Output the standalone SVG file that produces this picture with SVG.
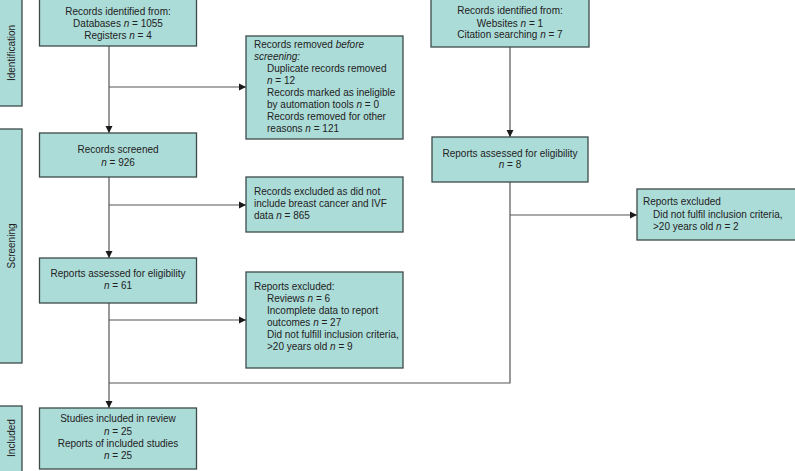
<svg xmlns="http://www.w3.org/2000/svg" width="795" height="471" viewBox="0 0 795 471">
<defs>
<marker id="ah" viewBox="0 0 10 10" refX="10" refY="5" markerWidth="7.5" markerHeight="7.5" markerUnits="userSpaceOnUse" orient="auto">
<path d="M0,0 L10,5 L0,10 z" fill="#1a1a1a"/>
</marker>
<style>
.box{fill:#acdcd8;stroke:#3c4a4a;stroke-width:1.3}
.bar{fill:#acdcd8;stroke:#3c4a4a;stroke-width:1.3}
.t{font-family:"Liberation Sans",Arial,sans-serif;font-size:10px;fill:#222}
.c{text-anchor:middle}
.ln{fill:none;stroke:#555;stroke-width:1.2}
.a{marker-end:url(#ah)}
</style>
</defs>
<rect width="795" height="471" fill="#fff"/>
<g id="phases">
<rect class="bar" x="-2" y="-2" width="24" height="108"/>
<text class="t c" transform="translate(14.5,53) rotate(-90)">Identification</text>
<rect class="bar" x="-2" y="129" width="24" height="234"/>
<text class="t c" transform="translate(14.5,246) rotate(-90)">Screening</text>
<rect class="bar" x="-2" y="406" width="24" height="68"/>
<text class="t c" transform="translate(14.5,438) rotate(-90)">Included</text>
</g>
<g id="connectors">
<line class="ln a" x1="109" y1="46" x2="109" y2="133"/>
<line class="ln a" x1="109" y1="87" x2="246" y2="87"/>
<line class="ln a" x1="109" y1="177" x2="109" y2="258"/>
<line class="ln a" x1="109" y1="205" x2="246" y2="205"/>
<line class="ln a" x1="109" y1="303" x2="109" y2="408"/>
<line class="ln a" x1="109" y1="320" x2="246" y2="320"/>
<line class="ln a" x1="510" y1="47" x2="510" y2="137"/>
<polyline class="ln" points="510,182 510,383 109,383"/>
<line class="ln a" x1="510" y1="215" x2="637" y2="215"/>
</g>
<g id="n1">
<rect class="box" x="39.5" y="-1" width="157" height="47"/>
<text class="t c" x="118" y="15">Records identified from:</text>
<text class="t c" x="118" y="27">Databases <tspan font-style="italic">n</tspan> = 1055</text>
<text class="t c" x="118" y="38.5">Registers <tspan font-style="italic">n</tspan> = 4</text>
</g>
<g id="n2">
<rect class="box" x="246" y="36" width="157" height="103"/>
<text class="t" x="254" y="48">Records removed <tspan font-style="italic">before</tspan></text>
<text class="t" x="254" y="60" font-style="italic">screening:</text>
<text class="t" x="267" y="72">Duplicate records removed</text>
<text class="t" x="267" y="84"><tspan font-style="italic">n</tspan> = 12</text>
<text class="t" x="267" y="96">Records marked as ineligible</text>
<text class="t" x="267" y="108">by automation tools <tspan font-style="italic">n</tspan> = 0</text>
<text class="t" x="267" y="120">Records removed for other</text>
<text class="t" x="267" y="132">reasons <tspan font-style="italic">n</tspan> = 121</text>
</g>
<g id="n3">
<rect class="box" x="431" y="-1" width="158" height="48"/>
<text class="t c" x="510" y="14">Records identified from:</text>
<text class="t c" x="510" y="26.5">Websites <tspan font-style="italic">n</tspan> = 1</text>
<text class="t c" x="510" y="38">Citation searching <tspan font-style="italic">n</tspan> = 7</text>
</g>
<g id="n4">
<rect class="box" x="39.5" y="133" width="157" height="44"/>
<text class="t c" x="118" y="153">Records screened</text>
<text class="t c" x="118" y="165.5"><tspan font-style="italic">n</tspan> = 926</text>
</g>
<g id="n5">
<rect class="box" x="246" y="177" width="157" height="55"/>
<text class="t" x="254" y="195">Records excluded as did not</text>
<text class="t" x="254" y="207">include breast cancer and IVF</text>
<text class="t" x="254" y="219">data <tspan font-style="italic">n</tspan> = 865</text>
</g>
<g id="n6">
<rect class="box" x="432" y="137" width="156" height="45"/>
<text class="t c" x="510" y="157">Reports assessed for eligibility</text>
<text class="t c" x="510" y="168"><tspan font-style="italic">n</tspan> = 8</text>
</g>
<g id="n7">
<rect class="box" x="637" y="189" width="160" height="51"/>
<text class="t" x="643" y="204.5">Reports excluded</text>
<text class="t" x="653" y="217.5">Did not fulfil inclusion criteria,</text>
<text class="t" x="653" y="229.5">&gt;20 years old <tspan font-style="italic">n</tspan> = 2</text>
</g>
<g id="n8">
<rect class="box" x="39.5" y="258" width="157" height="45"/>
<text class="t c" x="118" y="277">Reports assessed for eligibility</text>
<text class="t c" x="118" y="288.5"><tspan font-style="italic">n</tspan> = 61</text>
</g>
<g id="n9">
<rect class="box" x="246" y="272" width="157" height="96"/>
<text class="t" x="254" y="290">Reports excluded:</text>
<text class="t" x="267" y="302">Reviews <tspan font-style="italic">n</tspan> = 6</text>
<text class="t" x="267" y="314">Incomplete data to report</text>
<text class="t" x="267" y="326">outcomes <tspan font-style="italic">n</tspan> = 27</text>
<text class="t" x="267" y="338">Did not fulfill inclusion criteria,</text>
<text class="t" x="267" y="350">&gt;20 years old <tspan font-style="italic">n</tspan> = 9</text>
</g>
<g id="n10">
<rect class="box" x="39.5" y="408" width="157" height="61"/>
<text class="t c" x="118" y="422">Studies included in review</text>
<text class="t c" x="118" y="434.5"><tspan font-style="italic">n</tspan> = 25</text>
<text class="t c" x="118" y="447">Reports of included studies</text>
<text class="t c" x="118" y="458.5"><tspan font-style="italic">n</tspan> = 25</text>
</g>
</svg>
